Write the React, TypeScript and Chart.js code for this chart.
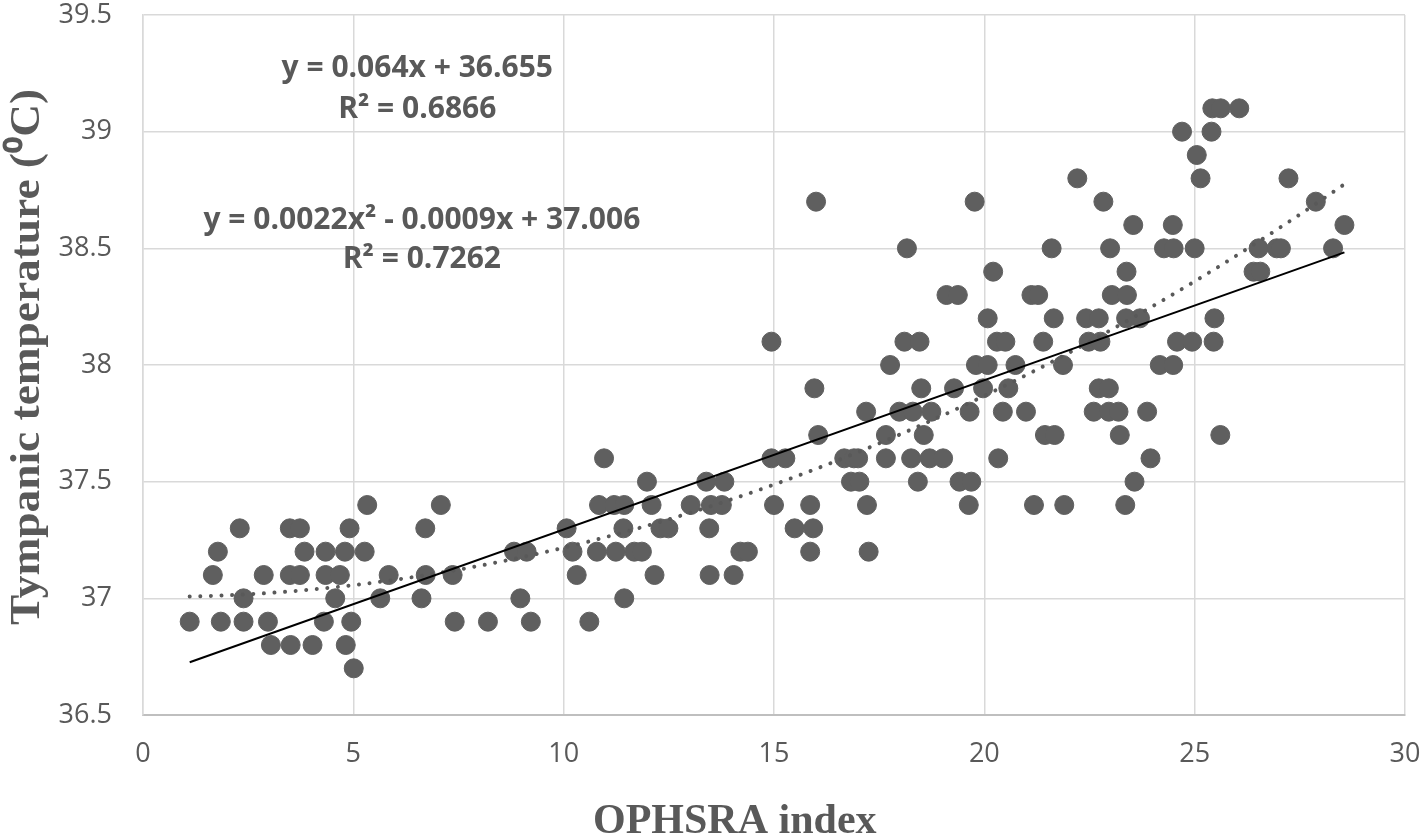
import { useEffect, useRef } from "react";
import { Chart, registerables } from "chart.js";

Chart.register(...registerables);

// Tympanic temperature levels (°C) and the OPHSRA index values observed at each level
const temperatureLevels = [
  36.7, 36.8, 36.9, 37.0, 37.1, 37.2, 37.3, 37.4, 37.5, 37.6, 37.7, 37.8,
  37.9, 38.0, 38.1, 38.2, 38.3, 38.4, 38.5, 38.6, 38.7, 38.8, 38.9, 39.0, 39.1,
];

const ophsraAtLevel: number[][] = [
  [5.01],
  [3.04, 3.51, 4.03, 4.82],
  [1.11, 1.85, 2.39, 2.97, 4.3, 4.95, 7.41, 8.2, 9.22, 10.61],
  [2.39, 4.57, 5.64, 6.62, 8.97, 11.44],
  [1.66, 2.87, 3.49, 3.73, 4.34, 4.68, 5.84, 6.72, 7.36, 10.31, 12.16, 13.47, 14.04],
  [1.78, 3.84, 4.34, 4.8, 5.27, 8.82, 9.12, 10.21, 10.79, 11.24, 11.68, 11.86, 14.2, 14.38, 15.86, 17.25],
  [2.3, 3.49, 3.73, 4.91, 6.71, 10.07, 11.42, 12.3, 12.49, 13.46, 15.49, 15.93],
  [5.33, 7.08, 10.84, 11.2, 11.44, 12.09, 13.02, 13.5, 13.76, 15.0, 15.86, 17.21, 19.63, 21.18, 21.9, 23.35],
  [11.98, 13.39, 13.82, 16.83, 17.03, 18.42, 19.41, 19.69, 23.57],
  [10.96, 14.94, 15.27, 16.67, 16.9, 17.0, 17.66, 18.26, 18.7, 19.02, 20.33, 23.95],
  [16.05, 17.66, 18.56, 21.44, 21.67, 23.22, 25.61],
  [17.19, 17.98, 18.3, 18.74, 19.65, 20.44, 20.99, 22.6, 22.96, 23.19, 23.87],
  [15.96, 18.5, 19.28, 19.97, 20.57, 22.72, 22.96],
  [17.76, 19.8, 20.08, 20.74, 21.87, 24.17, 24.49],
  [14.94, 18.1, 18.46, 20.3, 20.5, 21.4, 22.48, 22.76, 24.58, 24.94, 25.45],
  [20.08, 21.65, 22.42, 22.72, 23.37, 23.7, 25.47],
  [19.1, 19.37, 21.12, 21.28, 23.03, 23.39],
  [20.21, 23.38, 26.4, 26.56],
  [18.16, 21.6, 22.99, 24.27, 24.5, 25.0, 26.52, 26.95, 27.05, 28.29],
  [23.54, 24.48, 28.56],
  [16.0, 19.77, 22.83, 27.88],
  [22.21, 25.14, 27.23],
  [25.05],
  [24.7, 25.4],
  [25.42, 25.62, 26.06],
];

// Trend line coefficients as printed on the chart
const linearCoef = [36.655, 0.064]; // intercept, slope
const quadraticCoef = [37.006, -0.0009, 0.0022]; // c0, c1, c2

const equationTexts = [
  "y = 0.064x + 36.655",
  "R² = 0.6866",
  "y = 0.0022x² - 0.0009x + 37.006",
  "R² = 0.7262",
];
// label anchor positions in data units (x, y)
const equationAnchorX = [6.52, 6.52, 6.63, 6.63];
const equationAnchorY = [39.273, 39.097, 38.621, 38.454];

const xTitle = "OPHSRA index";
const yTitle = "Tympanic temperature (⁰C)";

const GREY_TEXT = "#595959";
const POINT_COLOR = "#5f5f5f";
const GRID_COLOR = "#d9d9d9";
const TITLE_FONT = "bold 42px 'Liberation Serif', 'Times New Roman', serif";

export default function App() {
  const canvasRef = useRef<HTMLCanvasElement | null>(null);

  useEffect(() => {
    const canvas = canvasRef.current;
    if (!canvas) return;

    const points: { x: number; y: number }[] = [];
    temperatureLevels.forEach((t, i) => {
      ophsraAtLevel[i].forEach((x) => points.push({ x, y: t }));
    });

    const xs = points.map((p) => p.x);
    const xMin = Math.min(...xs);
    const xMax = Math.max(...xs);

    const linearLine = [xMin, xMax].map((x) => ({
      x,
      y: linearCoef[0] + linearCoef[1] * x,
    }));

    const quadLine: { x: number; y: number }[] = [];
    const steps = 120;
    for (let i = 0; i <= steps; i++) {
      const x = xMin + ((xMax - xMin) * i) / steps;
      quadLine.push({
        x,
        y: quadraticCoef[0] + quadraticCoef[1] * x + quadraticCoef[2] * x * x,
      });
    }

    const labelsPlugin = {
      id: "equationAndTitles",
      afterDraw(chart: any) {
        const { ctx, scales, width, height } = chart;
        ctx.save();
        ctx.fillStyle = GREY_TEXT;
        ctx.font = "bold 30px 'Open Sans', 'Liberation Sans', sans-serif";
        ctx.textAlign = "center";
        ctx.textBaseline = "middle";
        equationTexts.forEach((txt, i) => {
          const px = scales.x.getPixelForValue(equationAnchorX[i]);
          const py = scales.y.getPixelForValue(equationAnchorY[i]);
          ctx.fillText(txt, px, py);
        });

        // axis titles
        ctx.font = TITLE_FONT;
        ctx.textAlign = "center";
        ctx.textBaseline = "alphabetic";
        ctx.fillText(xTitle, width * 0.516, height - 3);

        ctx.save();
        ctx.translate(39, 357);
        ctx.rotate(-Math.PI / 2);
        ctx.scale(1.08, 1);
        ctx.fillText(yTitle, 0, 0);
        ctx.restore();

        ctx.restore();
      },
    };

    const chart = new Chart(canvas, {
      type: "scatter",
      data: {
        datasets: [
          {
            label: "Linear",
            data: linearLine,
            showLine: true,
            borderColor: "#000000",
            borderWidth: 2,
            pointRadius: 0,
            pointHoverRadius: 0,
            fill: false,
            order: 0,
          } as any,
          {
            label: "Poly. (2)",
            data: quadLine,
            showLine: true,
            borderColor: GREY_TEXT,
            borderWidth: 4,
            borderDash: [0.01, 10.6],
            borderCapStyle: "round",
            pointRadius: 0,
            pointHoverRadius: 0,
            fill: false,
            tension: 0,
            order: 0,
          } as any,
          {
            label: "Tympanic temperature",
            data: points,
            backgroundColor: POINT_COLOR,
            borderColor: POINT_COLOR,
            borderWidth: 1,
            pointRadius: 9.5,
            pointHoverRadius: 9.5,
            order: 1,
          } as any,
        ],
      },
      options: {
        animation: false,
        responsive: false,
        maintainAspectRatio: false,
        devicePixelRatio: 1,
        layout: { padding: { top: 15, right: 19, left: 0, bottom: 0 } },
        plugins: {
          legend: { display: false },
          tooltip: { enabled: false },
        },
        scales: {
          x: {
            type: "linear",
            min: 0,
            max: 30,
            afterFit: (s: any) => {
              s.height = 121;
              s.paddingLeft = 0;
              s.paddingRight = 0;
            },
            ticks: {
              stepSize: 5,
              color: GREY_TEXT,
              padding: 23,
              font: { family: "'Open Sans', 'Liberation Sans', sans-serif", size: 27 },
            },
            grid: {
              color: GRID_COLOR,
              lineWidth: 1.5,
              drawTicks: false,
            },
            border: { color: "#bfbfbf", width: 2 },
          },
          y: {
            type: "linear",
            min: 36.5,
            max: 39.5,
            afterFit: (s: any) => {
              s.width = 143;
              s.paddingTop = 0;
              s.paddingBottom = 0;
            },
            ticks: {
              stepSize: 0.5,
              color: GREY_TEXT,
              padding: 31,
              font: { family: "'Open Sans', 'Liberation Sans', sans-serif", size: 27 },
              callback: (v: any) => String(Math.round(Number(v) * 10) / 10),
            },
            grid: {
              color: GRID_COLOR,
              lineWidth: 1.5,
              drawTicks: false,
            },
            border: { color: GRID_COLOR, width: 1.5 },
          },
        },
      },
      plugins: [labelsPlugin],
    });

    return () => chart.destroy();
  }, []);

  return (
    <div style={{ position: "absolute", left: 0, top: 0, width: 1424, height: 836, background: "#ffffff" }}>
      <canvas ref={canvasRef} width={1424} height={836} style={{ display: "block", width: 1424, height: 836 }} />
    </div>
  );
}
